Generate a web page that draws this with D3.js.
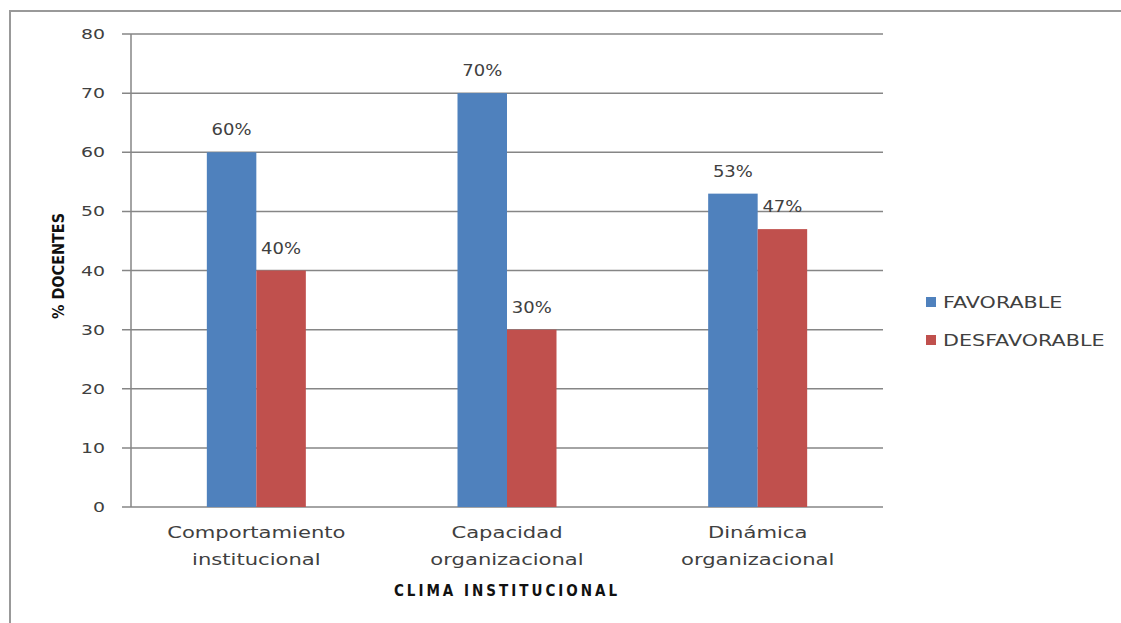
<!DOCTYPE html>
<html>
<head>
<meta charset="utf-8">
<script src="https://cdn.jsdelivr.net/npm/d3@7"></script>
<style>
  body { margin: 0; background: #fff; }
  text { font-family: "DejaVu Sans", sans-serif; fill: #404040; }
</style>
</head>
<body>
<svg></svg>
<script>
// Chart size
var width = 1121;
var height = 623;

// Data
var categories = [["Comportamiento", "institucional"], ["Capacidad", "organizacional"], ["Dinámica", "organizacional"]];
var seriesNames = ["FAVORABLE", "DESFAVORABLE"];
var favorable = [60, 70, 53];
var desfavorable = [40, 30, 47];
var yTicks = [0, 10, 20, 30, 40, 50, 60, 70, 80];
var colors = ["#4F81BD", "#C0504D"];

var svg = d3.select("svg")
  .attr("width", width)
  .attr("height", height);

// helper: text stretched horizontally like the original
function wideText(parent, x, y, str, size, sx, anchor) {
  return parent.append("text")
    .attr("transform", "translate(" + x + "," + y + ") scale(" + sx + ",1)")
    .attr("text-anchor", anchor || "middle")
    .style("font-size", size + "px")
    .text(str);
}

// Outer frame (left + top visible)
svg.append("path")
  .attr("d", "M10,623 L10,11 L1121,11")
  .attr("fill", "none")
  .attr("stroke", "#999")
  .attr("stroke-width", 2);

var plotLeft = 131, plotRight = 883, plotTop = 34, plotBottom = 507;

var x0 = d3.scaleBand()
  .domain(d3.range(categories.length))
  .range([plotLeft, plotRight]);

var barW = 49.5;
var x1 = d3.scaleBand()
  .domain(d3.range(seriesNames.length))
  .range([0, barW * 2]);

var y = d3.scaleLinear()
  .domain([0, 80])
  .range([plotBottom, plotTop]);

// Gridlines
svg.selectAll(".grid")
  .data(yTicks)
  .enter()
  .append("line")
  .attr("x1", plotLeft - 9)
  .attr("x2", plotRight)
  .attr("y1", function(d) { return y(d); })
  .attr("y2", function(d) { return y(d); })
  .attr("stroke", "#868686")
  .attr("stroke-width", 1.5);

// Y axis line
svg.append("line")
  .attr("x1", plotLeft).attr("x2", plotLeft)
  .attr("y1", plotTop).attr("y2", plotBottom)
  .attr("stroke", "#868686")
  .attr("stroke-width", 1.5);

// Y tick labels
yTicks.forEach(function(d) {
  wideText(svg, 105, y(d) + 5, d, 14, 1.35, "end");
});

// Bars
var series = [favorable, desfavorable];
var groups = svg.selectAll(".cat")
  .data(categories)
  .enter()
  .append("g")
  .attr("transform", function(d, i) {
    return "translate(" + (x0(i) + x0.bandwidth() / 2 - barW) + ",0)";
  });

groups.selectAll("rect")
  .data(function(d, i) { return series.map(function(s, j) { return { s: j, v: s[i] }; }); })
  .enter()
  .append("rect")
  .attr("x", function(d) { return x1(d.s); })
  .attr("width", x1.bandwidth())
  .attr("y", function(d) { return y(d.v); })
  .attr("height", function(d) { return y(0) - y(d.v); })
  .attr("fill", function(d) { return colors[d.s]; });

groups.each(function(c, i) {
  var g = d3.select(this);
  series.forEach(function(s, j) {
    wideText(g, x1(j) + x1.bandwidth() / 2, y(s[i]) - 17, s[i] + "%", 15, 1.2);
  });
});

// Category labels
categories.forEach(function(c, i) {
  var cx = x0(i) + x0.bandwidth() / 2;
  wideText(svg, cx, 538, c[0], 16, 1.32);
  wideText(svg, cx, 565, c[1], 16, 1.32);
});

// Axis titles
svg.append("text")
  .attr("x", 507)
  .attr("y", 596)
  .attr("text-anchor", "middle")
  .style("font-family", "'DejaVu Sans Condensed', 'DejaVu Sans', sans-serif")
  .style("font-size", "15px")
  .style("font-weight", "bold")
  .style("letter-spacing", "3px")
  .style("fill", "#111")
  .text("CLIMA INSTITUCIONAL");

svg.append("text")
  .attr("transform", "translate(64,266) rotate(-90)")
  .attr("text-anchor", "middle")
  .style("font-family", "'DejaVu Sans Condensed', 'DejaVu Sans', sans-serif")
  .style("font-size", "16px")
  .style("font-weight", "bold")
  .style("fill", "#111")
  .text("% DOCENTES");

// Legend
var legend = svg.selectAll(".legend")
  .data(seriesNames)
  .enter()
  .append("g")
  .attr("transform", function(d, i) { return "translate(926," + (302 + i * 38) + ")"; });

legend.append("rect")
  .attr("x", 0).attr("y", -5)
  .attr("width", 10).attr("height", 10)
  .attr("fill", function(d, i) { return colors[i]; });

legend.each(function(d) {
  wideText(d3.select(this), 17, 6, d, 15, 1.38, "start");
});
</script>
</body>
</html>
